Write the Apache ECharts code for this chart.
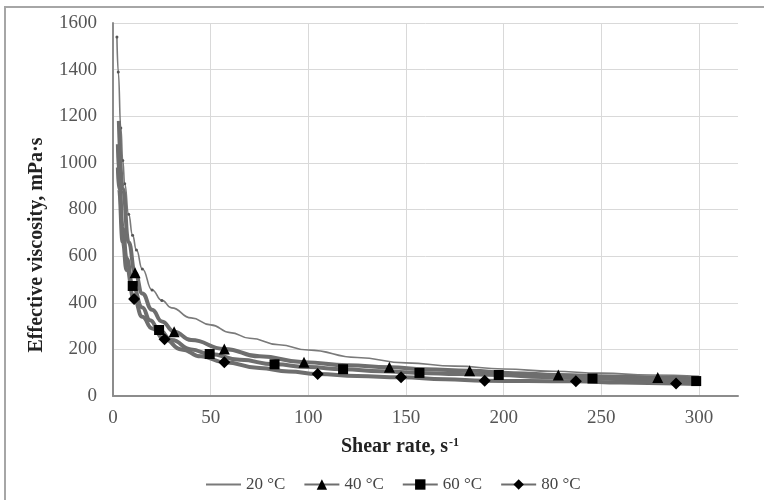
<!DOCTYPE html>
<html>
<head>
<meta charset="utf-8">
<script src="https://cdn.jsdelivr.net/npm/echarts@6/dist/echarts.min.js"></script>
<style>html,body{margin:0;padding:0;background:#fff;}#c{width:764px;height:500px;}</style>
</head>
<body>
<div id="c"></div>
<script>
// Data (shear rate s^-1, effective viscosity mPa·s)
var seriesNames = ['20 °C', '40 °C', '60 °C', '80 °C'];
var xTicks = [0, 50, 100, 150, 200, 250, 300];
var yTicks = [0, 200, 400, 600, 800, 1000, 1200, 1400, 1600];

// 20 °C: dense readings along the upper curve
var rate20 = [2, 2.7, 4, 5, 6, 8, 10, 12, 15, 20, 25, 30, 40, 50, 60, 70, 85, 100, 125, 150, 175, 200, 225, 250, 275, 300];
var visc20 = [1540, 1390, 1150, 1010, 910, 780, 690, 626, 545, 455, 410, 378, 335, 305, 272, 248, 220, 197, 165, 142, 128, 116, 106, 98, 90, 84];

// 40 °C: marked points and readings of the curve between them
var mark40x = [11.3, 31.3, 57, 97.8, 141.5, 182.6, 228, 278.9];
var mark40y = [529, 276, 202, 145, 123, 108, 90, 79];
var curve40x = [3, 5, 8, 15, 20, 25, 40, 75, 120, 160, 205, 255, 300];
var curve40y = [1180, 890, 660, 440, 370, 320, 240, 170, 132, 115, 98, 84, 75];

// 60 °C
var mark60x = [10.1, 23.6, 49.5, 82.7, 117.8, 156.9, 197.5, 245.5, 298.6];
var mark60y = [472, 283, 180, 136, 115, 99, 90, 75, 64];
var curve60x = [2.5, 3, 5, 7, 15, 19, 30, 40, 65, 100, 137, 177, 220, 270];
var curve60y = [1080, 960, 720, 590, 380, 325, 240, 200, 155, 124, 106, 94, 82, 70];

// 80 °C
var mark80x = [10.8, 26.4, 57, 104.8, 147.5, 190.3, 237, 288.3];
var mark80y = [416, 243, 145, 94, 80, 65, 63, 54];
var curve80x = [2.5, 3, 5, 7, 15, 20, 35, 45, 75, 90, 125, 170, 212, 260, 300];
var curve80y = [980, 890, 660, 540, 340, 290, 200, 170, 120, 105, 86, 72, 64, 58, 52];

function build(curveX, curveY, markX, markY, size) {
  var pts = [];
  curveX.forEach(function (x, i) { pts.push({ value: [x, curveY[i]], symbolSize: 0 }); });
  markX.forEach(function (x, i) { pts.push({ value: [x, markY[i]], symbolSize: size }); });
  pts.sort(function (a, b) { return a.value[0] - b.value[0]; });
  return pts;
}
function build20(xs, ys) {
  return xs.map(function (x, i) { return { value: [x, ys[i]], symbolSize: x <= 25 ? 3 : 0 }; });
}

var serif = 'Liberation Serif';
var chart = echarts.init(document.getElementById('c'), null, { renderer: 'canvas' });

var option = {
  animation: false,
  backgroundColor: '#ffffff',
  graphic: [
    { type: 'rect', shape: { x: 5, y: 7, width: 800, height: 520 }, style: { fill: 'none', stroke: '#a6a6a6', lineWidth: 2 }, silent: true },
    { type: 'text', x: 37, y: 245, rotation: Math.PI / 2, silent: true,
      style: { text: 'Effective viscosity, mPa·s', font: 'bold 20px "Liberation Serif"', fill: '#222', align: 'center', verticalAlign: 'middle' } },
    { type: 'text', x: 400, y: 447, silent: true,
      style: { text: 'Shear rate, s{sup|-1}', font: 'bold 20px "Liberation Serif"', fill: '#222', align: 'center', verticalAlign: 'middle',
        rich: { sup: { font: 'bold 12px "Liberation Serif"', fill: '#222', verticalAlign: 'top', padding: [0, 0, 9, 1] } } } }
  ],
  grid: { left: 113, top: 23, right: 26, bottom: 104 },
  legend: {
    top: 471,
    left: 200,
    itemWidth: 35,
    itemHeight: 13,
    itemGap: 18,
    lineStyle: { width: 2 },
    itemStyle: { borderWidth: 0 },
    textStyle: { fontFamily: serif, fontSize: 17, color: '#444' },
    data: [
      { name: seriesNames[0], itemStyle: { opacity: 0 } },
      seriesNames[1], seriesNames[2], seriesNames[3]
    ]
  },
  xAxis: {
    type: 'value',
    min: 0,
    max: 320,
    interval: 50,
    axisLine: { show: true, lineStyle: { color: '#8c8c8c', width: 2 } },
    axisTick: { show: false },
    axisLabel: {
      fontFamily: serif, fontSize: 19, color: '#555', margin: 13,
      formatter: function (v) { return xTicks.indexOf(v) >= 0 ? String(v) : ''; }
    },
    splitLine: { show: true, showMaxLine: false, lineStyle: { color: '#d9d9d9', width: 1 } }
  },
  yAxis: {
    type: 'value',
    min: 0,
    max: 1600,
    interval: 200,
    axisLine: { show: true, lineStyle: { color: '#8c8c8c', width: 2 } },
    axisTick: { show: false },
    axisLabel: {
      fontFamily: serif, fontSize: 19, color: '#555', margin: 16,
      formatter: function (v) { return yTicks.indexOf(v) >= 0 ? String(v) : ''; }
    },
    splitLine: { show: true, lineStyle: { color: '#d9d9d9', width: 1 } }
  },
  series: [
    {
      name: seriesNames[0], type: 'line', smooth: true, smoothMonotone: 'x',
      data: build20(rate20, visc20),
      symbol: 'circle', symbolSize: 3, showSymbol: true,
      lineStyle: { color: '#7a7a7a', width: 1.6 },
      itemStyle: { color: '#555' }, z: 2
    },
    {
      name: seriesNames[1], type: 'line', smooth: true, smoothMonotone: 'x',
      data: build(curve40x, curve40y, mark40x, mark40y, 11),
      symbol: 'triangle', symbolSize: 10,
      lineStyle: { color: '#6e6e6e', width: 4 },
      itemStyle: { color: '#000' }, z: 3
    },
    {
      name: seriesNames[2], type: 'line', smooth: true, smoothMonotone: 'x',
      data: build(curve60x, curve60y, mark60x, mark60y, 10),
      symbol: 'rect', symbolSize: 9,
      lineStyle: { color: '#6e6e6e', width: 4 },
      itemStyle: { color: '#000' }, z: 3
    },
    {
      name: seriesNames[3], type: 'line', smooth: true, smoothMonotone: 'x',
      data: build(curve80x, curve80y, mark80x, mark80y, 12),
      symbol: 'diamond', symbolSize: 10,
      lineStyle: { color: '#6e6e6e', width: 4 },
      itemStyle: { color: '#000' }, z: 3
    }
  ]
};
chart.setOption(option);
</script>
</body>
</html>
